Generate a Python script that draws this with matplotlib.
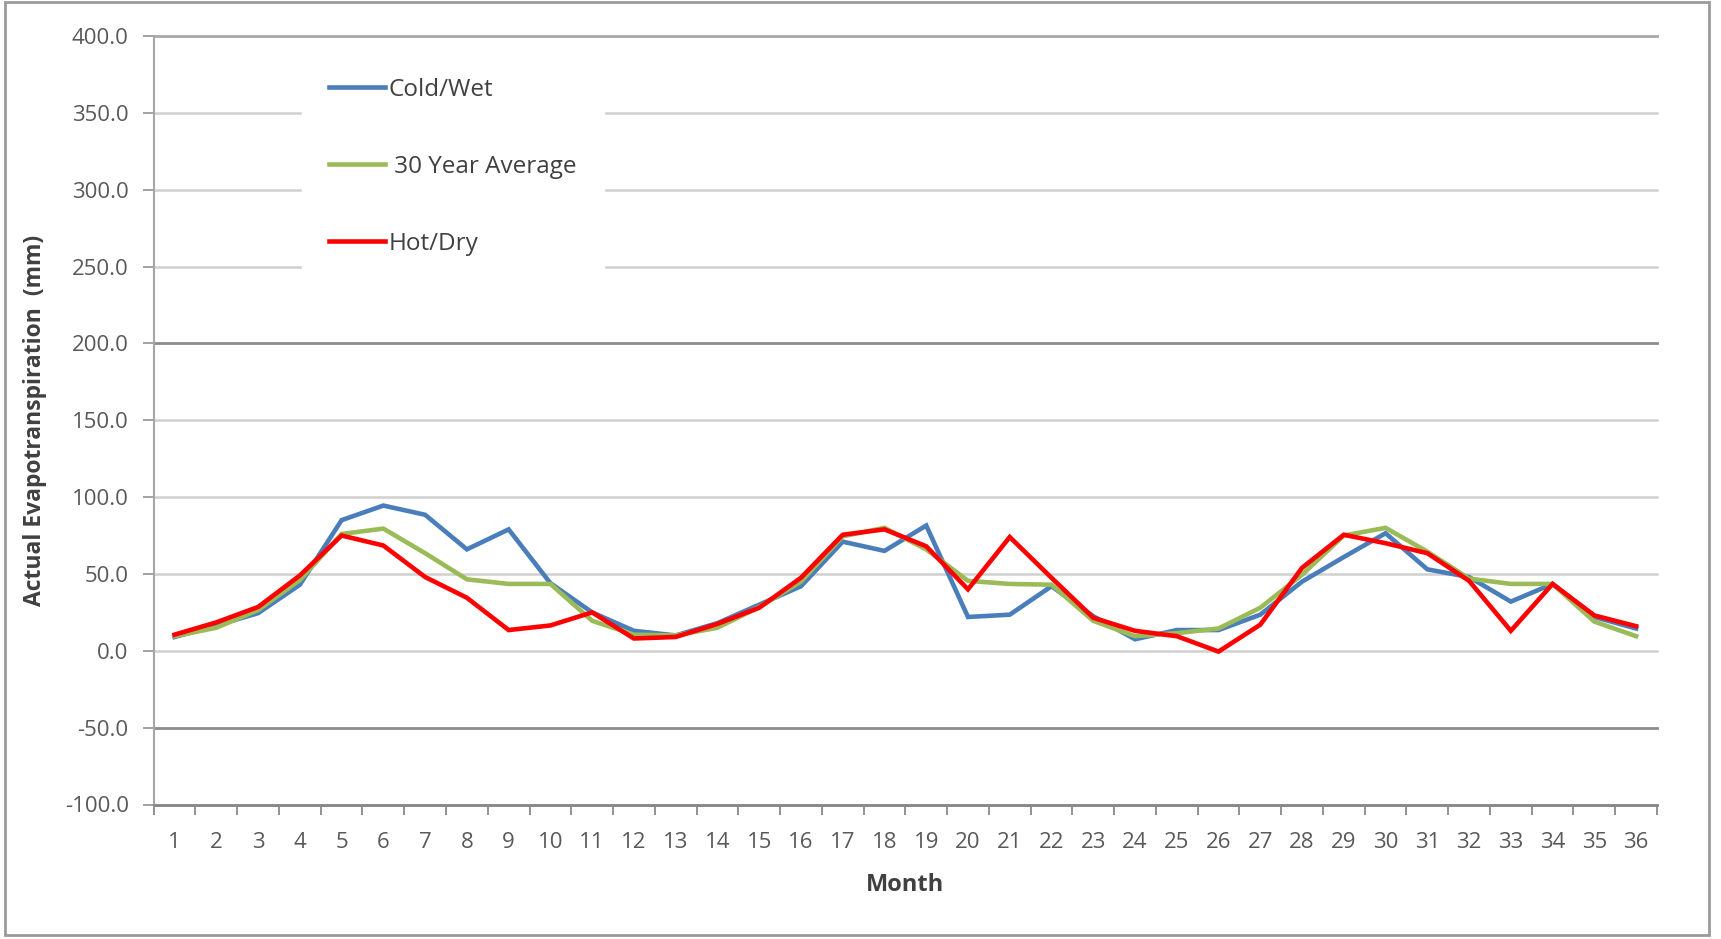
import numpy as np
import matplotlib
matplotlib.use("Agg")
import matplotlib.pyplot as plt
from matplotlib.patches import Rectangle

# Monthly actual evapotranspiration (mm) over three years
months = list(range(1, 37))
cold_wet = [9, 16.5, 24.5, 43, 85, 94.5, 88.5, 66, 79, 44, 25, 13,
            10, 18, 30, 42, 71, 65, 81.5, 22, 23.5, 42, 22.5, 7.5,
            13.5, 13.5, 23.5, 45, 61, 76.5, 53, 48, 32, 43.5, 22, 14.5]
avg_30yr = [9.5, 15, 26.5, 46, 76, 79.5, 63.5, 46.5, 43.5, 43.5, 19.5, 10.5,
            10, 15, 28.5, 45, 74.5, 80, 66, 45.5, 43.5, 43, 19.5, 9.5,
            11.5, 14.5, 28, 49.5, 75, 80, 64.5, 47, 43.5, 43.5, 19, 9.5]
hot_dry = [10.5, 18.5, 28.5, 49, 75, 68.5, 48, 34.5, 13.5, 16.5, 25, 8,
           9, 17.5, 28, 47.5, 75.5, 79, 68, 40, 74, 47.5, 21.5, 13,
           9.5, -0.5, 17, 54, 75.5, 70, 63.5, 45.5, 13, 43.5, 23, 16]

series_values = [cold_wet, avg_30yr, hot_dry]
series_labels = ["Cold/Wet", " 30 Year Average", "Hot/Dry"]
series_colors = ["#4A7EBB", "#9BBB59", "#FF0000"]
y_ticks = [-100, -50, 0, 50, 100, 150, 200, 250, 300, 350, 400]

plt.rcParams['font.family'] = ['Open Sans', 'DejaVu Sans']

W, H = 1721, 939
fig = plt.figure(figsize=(W / 100, H / 100), dpi=100)
fig.patch.set_facecolor("white")

left, right, top, bottom = 153.7, 1657.0, 36.0, 804.5
ax = fig.add_axes([left / W, 1 - bottom / H, (right - left) / W, (bottom - top) / H])

handles = []
for vals, lab, col in zip(series_values, series_labels, series_colors):
    ln, = ax.plot(months, vals, color=col, lw=3.3, label=lab,
                  solid_joinstyle="miter", zorder=3)
    handles.append(ln)

ax.set_xlim(0.5, 36.5)
ax.set_ylim(-100, 400)

# y axis
ax.set_yticks(y_ticks)
ax.set_yticklabels([f"{v:.1f}" for v in y_ticks])
ax.tick_params(axis="y", which="major", length=8, width=1.3, color="#9a9a9a",
               direction="out", pad=10, labelsize=16, labelcolor="#595959")

# x axis: tick marks between categories, labels centred on categories
ax.set_xticks(np.arange(0.5, 37, 1))
ax.set_xticklabels([])
ax.set_xticks(months, minor=True)
ax.set_xticklabels([str(m) for m in months], minor=True)
ax.tick_params(axis="x", which="major", length=7, width=1.3, color="#8a8a8a",
               direction="out")
ax.tick_params(axis="x", which="minor", length=0, pad=20, labelsize=16,
               labelcolor="#595959")

# gridlines
ax.set_axisbelow(True)
ax.yaxis.grid(True, color="#d0d0d0", lw=1.8)
for val, gl in zip(ax.get_yticks(), ax.get_ygridlines()):
    gl.set_clip_on(False)
    if val in (200, -50):
        gl.set_color("#8c8c8c")
        gl.set_linewidth(2.0)
    elif val == 400:
        gl.set_color("#a8a8a8")
        gl.set_linewidth(2.0)

for s in ("top", "right"):
    ax.spines[s].set_visible(False)
ax.spines["left"].set_color("#a6a6a6")
ax.spines["left"].set_linewidth(1.5)
ax.spines["bottom"].set_color("#868686")
ax.spines["bottom"].set_linewidth(2.0)

ax.set_ylabel("Actual Evapotranspiration  (mm)", fontsize=16.5, fontweight="bold",
              color="#404040", va="center")
ax.yaxis.set_label_coords((35 - left) / (right - left), 0.5)
ax.set_xlabel("Month", fontsize=17, fontweight="bold", color="#404040", va="center")
ax.xaxis.set_label_coords(0.5, -(885 - bottom) / (bottom - top))

leg = ax.legend(handles=handles, loc="upper left",
                bbox_to_anchor=(302 / W, 1 - 51 / H), bbox_transform=fig.transFigure,
                borderaxespad=0, frameon=True, fancybox=False, framealpha=1,
                edgecolor="white", facecolor="white", fontsize=17.5,
                handlelength=2.3, handletextpad=0.15, labelspacing=2.18,
                borderpad=1.1)
for t in leg.get_texts():
    t.set_color("#404040")

# chart area border
fig.add_artist(Rectangle((5 / W, 1 - 935 / H), (1709 - 5) / W, (935 - 2) / H,
                         transform=fig.transFigure, fill=False,
                         edgecolor="#9a9a9a", lw=2))

fig.savefig("out.png", dpi=100, facecolor="white")
